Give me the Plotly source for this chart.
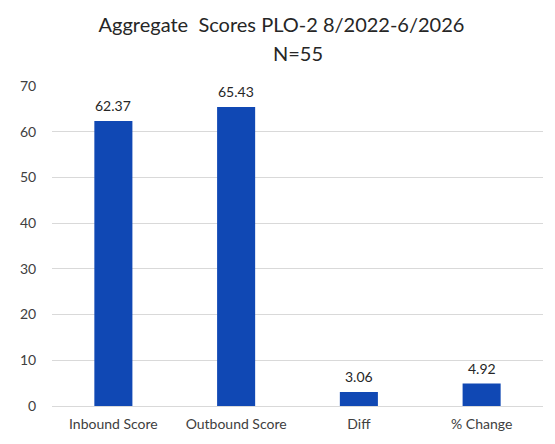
import plotly.graph_objects as go

# data
categories = ['Inbound Score', 'Outbound Score', 'Diff', '% Change']
values = [62.37, 65.43, 3.06, 4.92]
labels = ['62.37', '65.43', '3.06', '4.92']
y_ticks = [0, 10, 20, 30, 40, 50, 60, 70]

bar_color = '#1048b4'
font_family = 'Lato, Open Sans, sans-serif'

# the page body has an 8px default margin, so the figure is sized to fit
W, H = 547, 436
top, bottom = 78, 36
plot_h = H - top - bottom

fig = go.Figure()

fig.add_trace(
    go.Bar(
        x=categories,
        y=values,
        marker=dict(color=bar_color, line=dict(width=0)),
        width=0.31,
    )
)

# value labels sit a little higher above the bars than plotly's own text
for cat, val, lab in zip(categories, values, labels):
    fig.add_annotation(
        x=cat,
        y=val,
        text=lab,
        showarrow=False,
        yanchor='bottom',
        yshift=5,
        font=dict(size=14, color='#262626'),
    )

fig.update_layout(
    width=W,
    height=H,
    paper_bgcolor='white',
    plot_bgcolor='white',
    font=dict(family=font_family, color='#595959'),
    title=dict(
        text='Aggregate  Scores PLO-2 8/2022-6/2026',
        x=0.5,
        xanchor='center',
        yref='container',
        y=1 - 17 / H,
        yanchor='middle',
        font=dict(size=20, color='#262626'),
    ),
    margin=dict(l=27, r=12, t=top, b=bottom),
    showlegend=False,
)

# second title line
fig.add_annotation(
    text='N=55',
    xref='paper',
    yref='paper',
    x=0.5,
    y=1 + (top - 45) / plot_h,
    xanchor='center',
    yanchor='middle',
    showarrow=False,
    font=dict(size=20, color='#262626'),
)

fig.update_xaxes(
    showgrid=False,
    showline=True,
    linecolor='#d9d9d9',
    linewidth=1,
    ticks='outside',
    ticklen=5,
    tickcolor='white',
    tickfont=dict(size=14, color='#404040'),
)

fig.update_yaxes(
    range=[0, 70],
    tickvals=y_ticks,
    showgrid=True,
    gridcolor='#d9d9d9',
    gridwidth=1,
    zeroline=False,
    showline=False,
    ticks='outside',
    ticklen=12,
    tickcolor='white',
    tickfont=dict(size=14, color='#404040'),
)

fig.write_html('out.html')
